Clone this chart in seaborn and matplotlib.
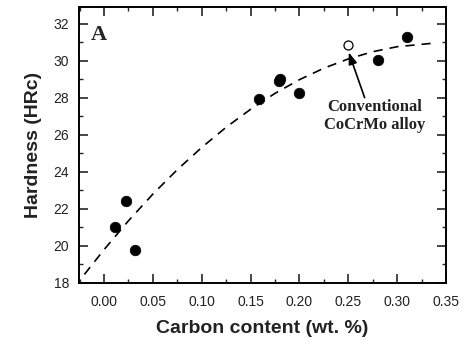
import matplotlib
matplotlib.use("Agg")
import matplotlib.pyplot as plt
import seaborn as sns
import pandas as pd
from matplotlib.ticker import MultipleLocator

# Data
carbon = [0.011, 0.0225, 0.032, 0.159, 0.179, 0.180, 0.1995, 0.280, 0.310]
hardness = [21.0, 22.4, 19.8, 27.95, 28.9, 29.0, 28.25, 30.05, 31.25]
conv_carbon = [0.25]
conv_hardness = [30.85]

fit_x = [-0.02, 0.0, 0.025, 0.05, 0.075, 0.10, 0.125, 0.15, 0.175, 0.20,
         0.225, 0.25, 0.275, 0.30, 0.335]
fit_y = [18.46, 19.79, 21.35, 22.79, 24.11, 25.31, 26.40, 27.37, 28.23, 28.97,
         29.59, 30.09, 30.48, 30.75, 30.93]

xticks = [0.00, 0.05, 0.10, 0.15, 0.20, 0.25, 0.30, 0.35]
yticks = [18, 20, 22, 24, 26, 28, 30, 32]

sns.set_style("ticks")
plt.rcParams['font.family'] = ['Liberation Sans', 'DejaVu Sans']

fig = plt.figure(figsize=(4.65, 3.45), dpi=100)
ax = fig.add_axes([0.170, 0.180, 0.789, 0.800])

df_pts = pd.DataFrame({"c": carbon, "h": hardness})
df_conv = pd.DataFrame({"c": conv_carbon, "h": conv_hardness})
df_fit = pd.DataFrame({"c": fit_x, "h": fit_y})

sns.lineplot(data=df_fit, x="c", y="h", ax=ax, color="black", lw=1.2,
             linestyle=(0, (5.5, 4.2)), sort=True, zorder=2)
sns.scatterplot(data=df_pts, x="c", y="h", ax=ax, s=58, color="black",
                edgecolor="black", linewidth=0.5, zorder=3)
sns.scatterplot(data=df_conv, x="c", y="h", ax=ax, s=42, color="white",
                edgecolor="black", linewidth=0.9, zorder=3)

ax.set_xlim(-0.0255, 0.35)
ax.set_ylim(18, 32.9)
ax.set_xticks(xticks)
ax.set_yticks(yticks)
ax.set_xticklabels([f"{v:.2f}" for v in xticks])
ax.set_yticklabels([str(v) for v in yticks])
ax.xaxis.set_minor_locator(MultipleLocator(0.025))
ax.yaxis.set_minor_locator(MultipleLocator(1))

for s in ax.spines.values():
    s.set_linewidth(1.4)
    s.set_color("black")
    s.set_visible(True)

ax.tick_params(which="major", direction="in", length=6.5, width=1.2,
               top=True, right=True, labelsize=10, labelcolor="#222222")
ax.tick_params(axis="x", which="major", pad=8.5)
ax.tick_params(axis="y", which="major", pad=7)
ax.tick_params(which="minor", direction="in", length=3.2, width=1.0,
               top=True, right=True)

ax.set_xlabel("Carbon content (wt. %)", fontsize=14, fontweight="bold",
              color="#222222", labelpad=8)
ax.set_ylabel("Hardness (HRc)", fontsize=14, fontweight="bold",
              color="#222222", labelpad=8)

ax.text(-0.0136, 31.12, "A", fontsize=16, fontweight="bold",
        family=["Liberation Serif", "DejaVu Serif"], ha="left", va="baseline")

ax.annotate("", xy=(0.2505, 30.45), xytext=(0.2668, 28.0),
            arrowprops=dict(arrowstyle="-|>,head_length=0.7,head_width=0.25",
                            color="black", lw=1.2, shrinkA=0, shrinkB=0))
ax.text(0.277, 27.0, "Conventional\nCoCrMo alloy", fontsize=12,
        fontweight="bold", family=["Liberation Serif", "DejaVu Serif"],
        ha="center", va="center", linespacing=1.15, color="#222222")

fig.savefig("out.png", dpi=100)
